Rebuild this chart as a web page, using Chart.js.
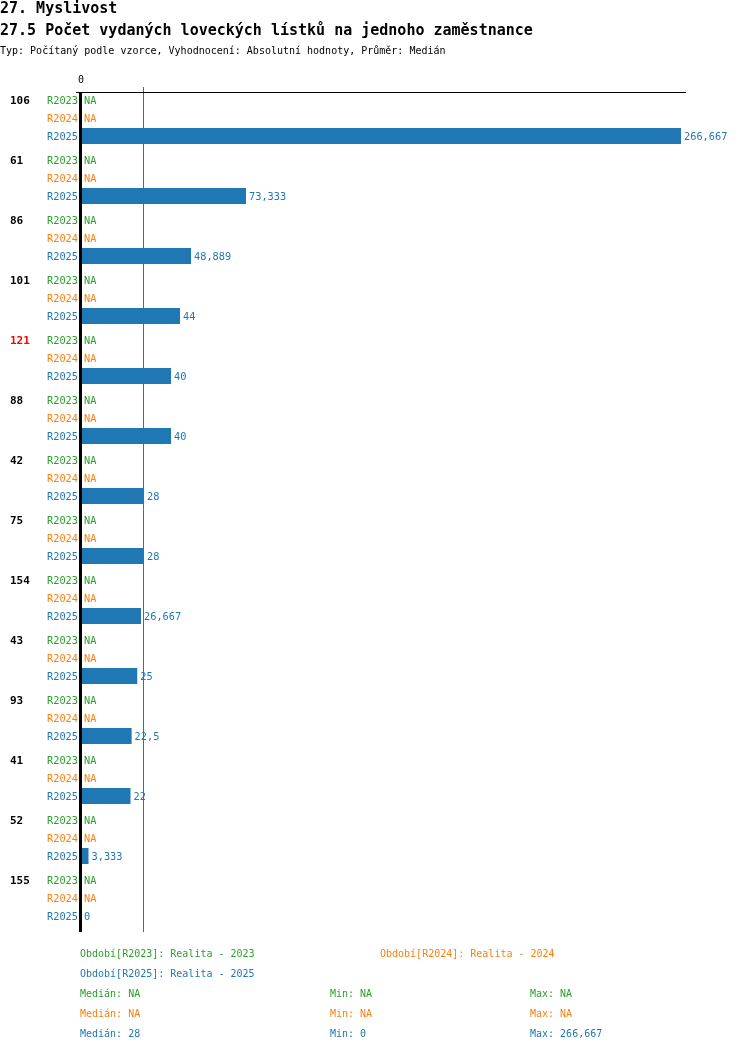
<!DOCTYPE html>
<html>
<head>
<meta charset="utf-8">
<script src="https://cdn.jsdelivr.net/npm/chart.js@4/dist/chart.umd.min.js"></script>
<style>
html,body{margin:0;padding:0;background:#fff;}
canvas{display:block;}
</style>
</head>
<body>
<canvas id="c" width="750" height="1052"></canvas>
<script>
const groups = ['106','61','86','101','121','88','42','75','154','43','93','41','52','155'];
const highlighted = ['121'];
const periods = ['R2023','R2024','R2025'];
const periodNames = ['Realita - 2023','Realita - 2024','Realita - 2025'];
const r2023 = [null,null,null,null,null,null,null,null,null,null,null,null,null,null];
const r2024 = [null,null,null,null,null,null,null,null,null,null,null,null,null,null];
const r2025 = [266.667,73.333,48.889,44,40,40,28,28,26.667,25,22.5,22,3.333,0];
const colors = ['#2ca02c','#ff7f0e','#1f77b4'];
const stats = [
  {median:'NA', min:'NA', max:'NA'},
  {median:'NA', min:'NA', max:'NA'},
  {median:'28', min:'0', max:'266,667'}
];
const medianValue = 28;
const title1 = '27. Myslivost';
const title2 = '27.5 Počet vydaných loveckých lístků na jednoho zaměstnance';
const subtitle = 'Typ: Počítaný podle vzorce, Vyhodnocení: Absolutní hodnoty, Průměr: Medián';

const MONO = '"DejaVu Sans Mono", "Liberation Mono", monospace';
const fmt = v => {
  if (v === null || v === undefined) return 'NA';
  let s = (Math.round(v*1000)/1000).toString();
  return s.replace('.', ',');
};

const CAT_PCT = 0.9;

const overlay = {
  id: 'overlay',
  afterDatasetsDraw(chart) {
    const ctx = chart.ctx;
    const xs = chart.scales.x, ys = chart.scales.y;
    const area = chart.chartArea;
    const catH = ys.getPixelForValue(1) - ys.getPixelForValue(0);
    const rowH = catH * CAT_PCT / 3;
    const x0 = xs.getPixelForValue(0);
    const axTop = area.top + 4, axBot = area.bottom + 4;
    ctx.save();
    ctx.textBaseline = 'middle';
    const data = [r2023, r2024, r2025];
    groups.forEach((g, j) => {
      const yc = ys.getPixelForValue(j);
      ctx.font = 'bold 11px ' + MONO;
      ctx.fillStyle = highlighted.includes(g) ? '#ff0000' : '#000';
      ctx.textAlign = 'left';
      ctx.fillText(g, 10, yc - rowH + 1);
      periods.forEach((p, i) => {
        const yy = yc + (i - 1) * rowH + 1;
        ctx.font = '10.3px ' + MONO;
        ctx.fillStyle = colors[i];
        ctx.textAlign = 'right';
        ctx.fillText(p, x0 - 3, yy);
        ctx.textAlign = 'left';
        const v = data[i][j];
        const xe = (v === null) ? x0 : xs.getPixelForValue(v);
        ctx.fillText(fmt(v), xe + 3, yy);
      });
    });
    // median line
    const xm = xs.getPixelForValue(medianValue);
    ctx.strokeStyle = colors[2];
    ctx.lineWidth = 1;
    ctx.beginPath();
    ctx.moveTo(Math.round(xm) - 0.5, area.top - 1);
    ctx.lineTo(Math.round(xm) - 0.5, axBot);
    ctx.stroke();
    // top axis line
    ctx.strokeStyle = '#000';
    ctx.beginPath();
    ctx.moveTo(x0 - 5, axTop + 0.5);
    ctx.lineTo(area.right + 5, axTop + 0.5);
    ctx.stroke();
    // zero axis
    ctx.lineWidth = 3;
    ctx.beginPath();
    ctx.moveTo(x0 - 0.5, axTop);
    ctx.lineTo(x0 - 0.5, axBot);
    ctx.stroke();
    // tick label
    ctx.font = '10px ' + MONO;
    ctx.fillStyle = '#000';
    ctx.textAlign = 'center';
    ctx.fillText('0', x0, axTop - 12);
    // titles
    ctx.textAlign = 'left';
    ctx.font = 'bold 15px ' + MONO;
    ctx.fillText(title1, 0, 9);
    ctx.fillText(title2, 0, 31);
    ctx.font = '10px ' + MONO;
    ctx.fillText(subtitle, 0, 51);
    // legend
    const L = axBot;
    ctx.font = '10px ' + MONO;
    const legPos = [[80, L + 22], [380, L + 22], [80, L + 42]];
    periods.forEach((p, i) => {
      ctx.fillStyle = colors[i];
      ctx.fillText('Období[' + p + ']: ' + periodNames[i], legPos[i][0], legPos[i][1]);
    });
    stats.forEach((s, i) => {
      const yy = L + 62 + i * 20;
      ctx.fillStyle = colors[i];
      ctx.fillText('Medián: ' + s.median, 80, yy);
      ctx.fillText('Min: ' + s.min, 330, yy);
      ctx.fillText('Max: ' + s.max, 530, yy);
    });
    ctx.restore();
  }
};

new Chart(document.getElementById('c'), {
  type: 'bar',
  data: {
    labels: groups,
    datasets: [
      {label: periods[0], data: r2023, backgroundColor: colors[0]},
      {label: periods[1], data: r2024, backgroundColor: colors[1]},
      {label: periods[2], data: r2025, backgroundColor: colors[2]}
    ]
  },
  options: {
    indexAxis: 'y',
    responsive: false,
    animation: false,
    devicePixelRatio: 1,
    categoryPercentage: CAT_PCT,
    barPercentage: 16/18,
    layout: {padding: {left: 81, top: 88, right: 69, bottom: 124}},
    plugins: {legend: {display: false}, tooltip: {enabled: false}, title: {display: false}},
    scales: {
      x: {display: false, min: 0, max: 266.667},
      y: {display: false}
    }
  },
  plugins: [overlay]
});
</script>
</body>
</html>
